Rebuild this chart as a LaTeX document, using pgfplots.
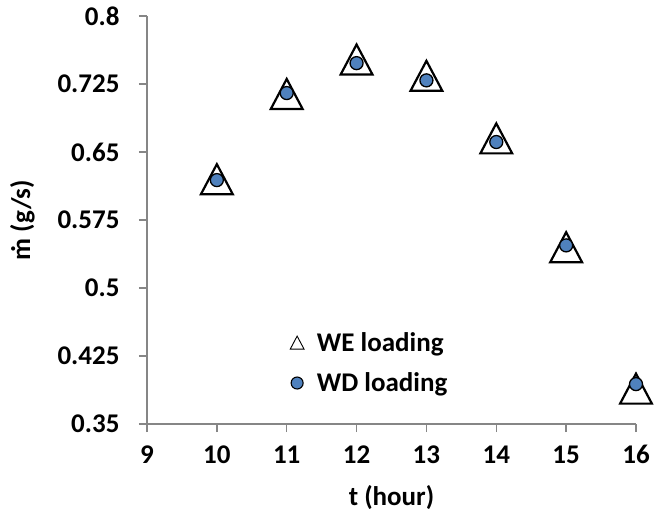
\documentclass[border=0pt]{standalone}
\usepackage{pgfplots}
\pgfplotsset{compat=1.18}
\usepackage{fontspec}
\setmainfont{Carlito}
\definecolor{wdblue}{RGB}{79,129,189}
\definecolor{axgray}{RGB}{134,134,134}
\pgfdeclareplotmark{xtri}{%
  \pgfpathmoveto{\pgfqpoint{0pt}{\pgfplotmarksize}}%
  \pgfpathlineto{\pgfqpoint{1.06\pgfplotmarksize}{-\pgfplotmarksize}}%
  \pgfpathlineto{\pgfqpoint{-1.06\pgfplotmarksize}{-\pgfplotmarksize}}%
  \pgfpathclose
  \pgfusepathqfillstroke}
\begin{document}
\begin{tikzpicture}
\begin{axis}[
  scale only axis, width=489bp, height=408bp,
  xmin=9, xmax=16, ymin=0.35, ymax=0.8,
  axis lines*=left,
  axis line style={axgray, line width=1.3bp},
  tick style={axgray, line width=1.3bp},
  major tick length=8bp,
  tick align=outside,
  xtick={9,10,11,12,13,14,15,16},
  xticklabels={9,10,11,12,13,14,15,16},
  ytick={0.35,0.425,0.5,0.575,0.65,0.725,0.8},
  yticklabels={0.35,0.425,0.5,0.575,0.65,0.725,0.8},
  /pgf/number format/assume math mode=true,
  font=\fontsize{27bp}{32bp}\selectfont\bfseries,
  ticklabel style={font=\fontsize{27bp}{32bp}\selectfont\bfseries},
  yticklabel style={xshift=-16bp},
  xticklabel style={yshift=-10bp},
  xlabel={t (hour)},
  ylabel={ṁ (g/s)},
  xlabel style={yshift=-14bp},
  ylabel style={yshift=16bp},
  clip=false,
  legend style={draw=none, fill=none, at={(0.29,0.15)}, anchor=west,
    inner sep=0pt, row sep=16bp,
    font=\fontsize{27bp}{32bp}\selectfont\bfseries},
  legend cell align=left,
]
\addplot[only marks, mark=xtri, mark size=15bp,
  mark options={fill=white, draw=black, line width=2.2bp},
  legend image code/.code={\path (0,0) (0.9cm,0); \draw[only marks, mark=xtri, mark size=6.5bp, mark options={fill=white,draw=black,line width=0.9bp}] plot coordinates {(0.28cm,0cm)};}]
  coordinates {(10,0.620) (11,0.714) (12,0.752) (13,0.734) (14,0.665) (15,0.545) (16,0.389)};
\addlegendentry{WE loading}
\addplot[only marks, mark=*, mark size=6.5bp,
  mark options={fill=wdblue, draw=black, line width=1.3bp},
  legend image code/.code={\path (0,0) (0.9cm,0); \draw[only marks, mark=*, mark size=6bp, mark options={fill=wdblue,draw=black,line width=1.1bp}] plot coordinates {(0.28cm,0cm)};}]
  coordinates {(10,0.619) (11,0.715) (12,0.748) (13,0.729) (14,0.661) (15,0.547) (16,0.394)};
\addlegendentry{WD loading}
\end{axis}
\path (current axis.south west) ++(-147bp,-94bp) rectangle ++(665bp,518bp);
\end{tikzpicture}
\end{document}
